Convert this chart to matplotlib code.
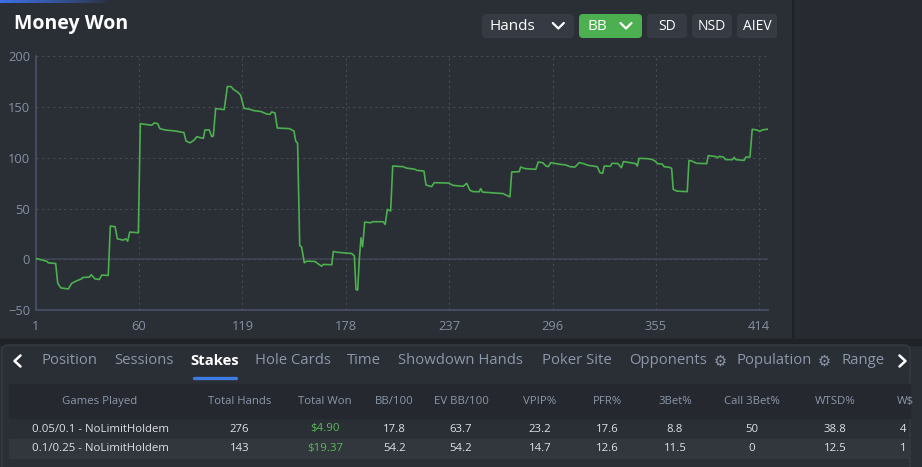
import matplotlib
matplotlib.use('Agg')
import matplotlib.pyplot as plt
import numpy as np
from matplotlib.patches import Rectangle, FancyBboxPatch

# cumulative BB won (hand number, BB)
hands = [1, 7.3, 8.2, 12.4, 13.6, 15.4, 19.6, 21.5, 24.4, 27.3, 27.8, 31.6, 32.7, 34.8, 37.3, 38.7, 42.4,
         43.6, 46.3, 47.6, 51, 52.4, 53.5, 54.7, 59.6, 60.7, 67.2, 68.7, 70.6, 71.9, 74.8, 80.5, 85.6,
         86.8, 89.1, 91.5, 92.9, 95.7, 96.7, 97.6, 100.1, 101.5, 102.4, 103.7, 108.6, 110.4, 112.5, 113.8,
         116.6, 118, 119.9, 123.3, 125.2, 129.6, 132.8, 134.7, 135.7, 137.6, 138.9, 145.8, 148.4, 149.4,
         150.5, 151.7, 152.8, 154.3, 155.7, 160.4, 162.7, 164.2, 165.2, 170, 170.9, 172.4, 178.5, 181.4,
         182.9, 183.8, 184.8, 185.7, 186.7, 187.6, 188.8, 192.2, 193.4, 199.4, 200.5, 201.7, 203.6, 204.8,
         210.8, 212.4, 217.5, 218.5, 222.6, 223.8, 227, 228.5, 236.5, 239.3, 245, 247, 248.9, 250.8,
         254.2, 255, 256.1, 267.9, 269.8, 271.7, 272.7, 277, 277.8, 280.3, 286.4, 287.9, 290.4, 292.3,
         293.6, 295, 299.3, 303.7, 306, 308.8, 311.3, 313.6, 316.4, 321.5, 323.1, 324.6, 325.5, 329, 330,
         333.3, 335.3, 336.5, 343.5, 344.4, 345.4, 349.7, 352.6, 354.5, 356, 358.6, 359.7, 362.6, 364,
         364.9, 366.9, 372.9, 373.9, 375.4, 378.3, 384, 384.9, 389.3, 390.3, 391.2, 393.5, 394.8, 398.8,
         399.7, 400.7, 405.4, 406.4, 408.7, 410, 412.5, 414.4, 415.7, 418.6]
bb_won = [1, -1.7, -3.3, -4, -23.6, -28, -29, -23.6, -21, -19, -17.7, -17.4, -15, -19, -19.7, -15.4, -15.7,
          32.8, 32.2, 20.3, 19, 20.3, 18, 26.9, 26.2, 133.5, 131.9, 134.2, 133.5, 128.6, 127.3, 126.3, 124.7,
          116.4, 114.6, 117.4, 120.7, 119.4, 119.1, 127.3, 127.3, 120.7, 121.4, 148.3, 147.3, 170, 170, 167.3,
          164, 161.4, 148.6, 147.6, 146.4, 145.4, 143, 142.7, 145, 144, 129.2, 128.6, 126.3, 116.4,
          114.2, 13.8, 12.1, -3.3, -1.7, -2, -4.9, -6.6, -4.9, -5.2, 7.9, 7.2, 6.2, 5.9,
          3.3, -29.5, -30.2, 0, 21.3, 12.5, 36.7, 36.1, 37.1, 37.1, 34.4, 49.2, 47.6, 91.8,
          91.2, 89.9, 88.6, 87.6, 86.9, 73.1, 71.6, 75.5, 75.1, 72.8, 71.9, 74.8, 67.9, 66.6,
          66.6, 69.6, 66.2, 64.7, 63, 61.5, 85.9, 86.3, 90.8, 89.3, 88.6, 95.8, 95.1, 91.8,
          91.2, 95.2, 93.8, 92.8, 91.2, 90.8, 95.2, 94.2, 92.5, 91.2, 85.3, 84.6, 91.8, 91.6, 94.5,
          94.3, 90.2, 96.2, 94.2, 91.8, 99.4, 99.1, 98.4, 96.8, 94.2, 93.8, 91.2, 90.6, 89.6,
          68.9, 67.2, 66.6, 97.4, 96.8, 94.5, 94.2, 102.1, 101.1, 99.8, 101.4, 100.7, 98.1, 98.1,
          100.4, 98.1, 97.4, 100.7, 100.7, 128, 127.3, 126, 127.3, 128]

x_ticks = [1, 60, 119, 178, 237, 296, 355, 414]
y_ticks = [-50, 0, 50, 100, 150, 200]

buttons = ['Hands', 'BB', 'SD', 'NSD', 'AIEV']
tabs = ['Position', 'Sessions', 'Stakes', 'Hole Cards', 'Time', 'Showdown Hands', 'Poker Site',
        'Opponents', 'Population', 'Range']
# last column is cut off by the panel edge in the screenshot
columns = ['Games Played', 'Total Hands', 'Total Won', 'BB/100', 'EV BB/100', 'VPIP%', 'PFR%',
           '3Bet%', 'Call 3Bet%', 'WTSD%', 'W$']
row1 = ['0.05/0.1 - NoLimitHoldem', '276', '$4.90', '17.8', '63.7', '23.2', '17.6', '8.8', '50', '38.8', '4']
row2 = ['0.1/0.25 - NoLimitHoldem', '143', '$19.37', '54.2', '54.2', '14.7', '12.6', '11.5', '0', '12.5', '1']

bg = '#2a2e35'
font = ['Open Sans', 'DejaVu Sans']
plt.rcParams['font.family'] = font

W, H = 922, 467
fig = plt.figure(figsize=(W / 100, H / 100), dpi=100, facecolor=bg)

# overlay in pixel coordinates for the UI around the chart
ui = fig.add_axes([0, 0, 1, 1])
ui.set_xlim(0, W)
ui.set_ylim(H, 0)
ui.axis('off')
ui.set_zorder(0)

grad = np.linspace(1, 0, 200).reshape(1, -1)
top_bar = np.zeros((1, 200, 4))
top_bar[..., 0] = 0.24
top_bar[..., 1] = 0.44
top_bar[..., 2] = 0.91
top_bar[..., 3] = grad ** 0.8
ui.imshow(top_bar, extent=(0, 110, 3, 0), aspect='auto', zorder=1)

ui.add_patch(Rectangle((793, 0), W - 793, 340, color='#272a31', zorder=0))
ui.plot([792.5, 792.5], [0, 340], color='#1c1f24', lw=1.2, zorder=1)
ui.add_patch(Rectangle((0, 339), W, 6, color='#1f2227', zorder=1))
ui.add_patch(FancyBboxPatch((2, 345), 908, 140, boxstyle='round,pad=0,rounding_size=6',
                            fc=bg, ec='#363a42', lw=1, zorder=2))

ui.text(14, 24, 'Money Won', color='white', fontsize=14, fontweight='bold', va='center', ha='left')

# buttons
btn_box = [(482, 574), (579, 642), (647, 687), (692, 732), (737, 777)]
for name, (x0, x1) in zip(buttons, btn_box):
    fc = '#4caf50' if name == 'BB' else '#363a43'
    ui.add_patch(FancyBboxPatch((x0, 14), x1 - x0, 24, boxstyle='round,pad=0,rounding_size=4',
                                fc=fc, ec='none', zorder=2))
    if name in ('Hands', 'BB'):
        tx = 489 if name == 'Hands' else 587
        ui.text(tx, 26.5, name, color='white', fontsize=11, va='center', ha='left', zorder=3)
        cx = 558.3 if name == 'Hands' else 626
        ui.plot([cx - 5.5, cx, cx + 5.5], [23, 28.5, 23], color='white', lw=1.6, zorder=3,
                solid_capstyle='round', solid_joinstyle='round')
    else:
        ui.text((x0 + x1) / 2, 26.5, name, color='white', fontsize=10, va='center', ha='center', zorder=3)

# tabs
ui.plot([20.5, 14.5, 20.5], [355.5, 361, 366.5], color='white', lw=1.8, zorder=3, solid_capstyle='round')
ui.plot([899.5, 905.5, 899.5], [355.5, 361, 366.5], color='white', lw=1.8, zorder=3, solid_capstyle='round')
tab_x = [41, 114, 190, 255, 347, 398, 542, 629, 736, 841]
for name, tx in zip(tabs, tab_x):
    if name == 'Stakes':
        ui.text(tx, 361, name, color='white', fontsize=10.7, fontweight='bold', va='center', ha='left', zorder=3)
    else:
        ui.text(tx, 361, name, color='#8c98ab', fontsize=10.7, va='center', ha='left', zorder=3)
ui.text(720, 361.5, '\u2699', color='#8c98ab', fontsize=10.5, fontweight='bold', va='center', ha='center', zorder=3)
ui.text(824, 361.5, '\u2699', color='#8c98ab', fontsize=10.5, fontweight='bold', va='center', ha='center', zorder=3)
ui.plot([194, 235.5], [378.3, 378.3], color='#3d7be3', lw=2.4, solid_capstyle='round', zorder=3)

# table
ui.add_patch(Rectangle((9, 384), 901, 34, color='#25282e', zorder=3))
ui.add_patch(Rectangle((9, 439), 901, 19, color='#32363d', zorder=3))
col_x = [100, 239.5, 325, 394.7, 461, 540, 607, 675, 752, 835, 897]
for i, cx in enumerate(col_x):
    last = i == len(col_x) - 1
    ha = 'left' if last else 'center'
    ui.text(cx, 401.5, columns[i], color='#8c98ab', fontsize=8.2, va='center', ha=ha, zorder=4)
    for row, ry in [(row1, 429), (row2, 448.5)]:
        col = '#5cb85c' if i == 2 else '#dde1e6'
        ui.text(cx + (3 if last else 0), ry, row[i], color=col, fontsize=8.2,
                va='center', ha=ha, zorder=4)

# chart
left, right, top, bottom = 35.7, 768, 56, 310.3
ax = fig.add_axes([left / W, 1 - bottom / H, (right - left) / W, (bottom - top) / H])
ax.set_zorder(5)
ax.set_facecolor('none')
ax.set_xlim(1, 419)
ax.set_ylim(-50, 200)
ax.set_xticks(x_ticks)
ax.set_yticks(y_ticks)
ax.grid(True, color='#464a53', lw=0.8, linestyle=(0, (2, 3)))
ax.axhline(0, color='#3b4050', lw=1.4, zorder=1)
ax.plot(hands, bb_won, color='#4caf50', lw=1.2, zorder=3)
for s in ['top', 'right']:
    ax.spines[s].set_visible(False)
for s in ['left', 'bottom']:
    ax.spines[s].set_color('#4a5068')
    ax.spines[s].set_linewidth(1.2)
ax.tick_params(length=0, colors='#8590a3', labelsize=9.3)
ax.tick_params(axis='x', pad=7)
ax.tick_params(axis='y', pad=4)

fig.savefig('out.png', dpi=100, facecolor=bg)
